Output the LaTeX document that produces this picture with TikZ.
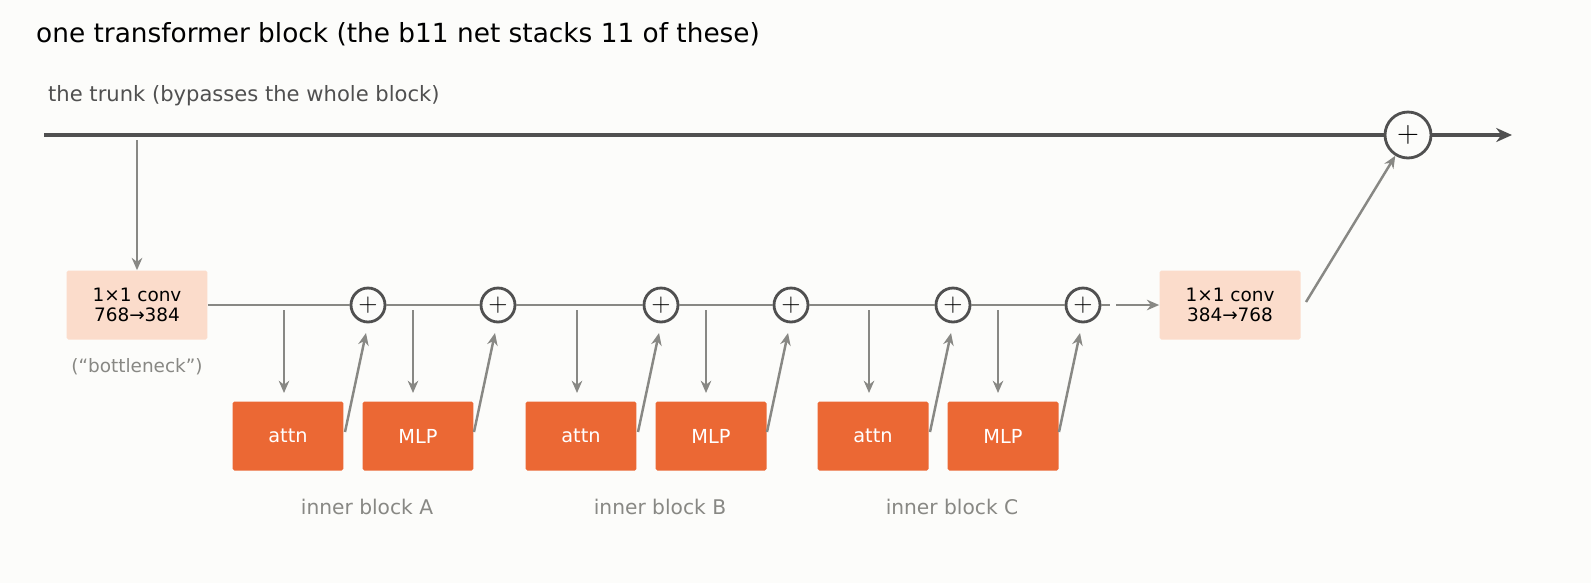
\documentclass[tikz,border=0pt]{standalone}
\usepackage{fontspec}
\setmainfont{DejaVu Sans}
\usetikzlibrary{calc,arrows.meta}
\definecolor{bgc}{HTML}{FCFCFA}
\definecolor{trunkc}{HTML}{505050}
\definecolor{linec}{HTML}{888884}
\definecolor{convc}{HTML}{FBDCCB}
\definecolor{blockc}{HTML}{EB6834}
\tikzset{
  convbox/.style={fill=convc,rounded corners=1pt,minimum width=2.82cm,minimum height=1.38cm,align=center,font=\fontsize{10.5}{11}\selectfont,inner sep=0pt},
  layerbox/.style={fill=blockc,rounded corners=1pt,minimum width=2.22cm,minimum height=1.38cm,text=white,font=\fontsize{11}{12}\selectfont},
  addc/.style={draw=trunkc,line width=1.6pt,circle,fill=bgc,minimum size=0.68cm,inner sep=0pt},
  feed/.style={draw=linec,line width=1.4pt,-{Stealth[length=7pt,width=6pt]}},
  graylbl/.style={text=linec,font=\fontsize{11.5}{12}\selectfont}
}
\begin{document}
\begin{tikzpicture}[x=0.02cm,y=-0.02cm]
				%background fixes the page size
				\fill[bgc] (0,0) rectangle (1591,583);
				\node[anchor=west,font=\fontsize{15}{16}\selectfont] (title) at (30,34) {one transformer block (the b11 net stacks 11 of these)};
				\node[anchor=west,text=trunkc,font=\fontsize{12}{13}\selectfont] (trunklbl) at (42,96) {the trunk (bypasses the whole block)};
				%% trunk with the outer add
				\coordinate (tin) at (44,135);
				\node[addc,minimum size=0.92cm] (tadd) at (1408,135) {\fontsize{17}{17}\selectfont$+$};
				\coordinate (tout) at (1512,135);
				\draw[trunkc,line width=2.2pt] (tin)--(tadd);
				\draw[trunkc,line width=2.2pt,-{Stealth[length=9pt,width=8pt]}] (tadd)--(tout);
				\node[convbox] (down) at (137,305) {1×1 conv\\768→384};
				\node[graylbl,font=\fontsize{10.5}{11}\selectfont] (bneck) at (137,367) {(“bottleneck”)};
				\node[convbox] (up) at (1230,305) {1×1 conv\\384→768};
				\coordinate (tap) at (137,140);
				\draw[feed] (tap)--(down.north);
				%% three inner blocks drawn with a loop
				\coordinate (prev) at (down.east);
				\foreach \b/\name in {0/A,293/B,585/C}{
					\node[layerbox] (attn\name) at (288+\b,436) {attn};
					\node[layerbox] (mlp\name) at (418+\b,436) {MLP};
					\node[addc] (a\name) at (368+\b,305) {\fontsize{15}{15}\selectfont$+$};
					\node[addc] (m\name) at (498+\b,305) {\fontsize{15}{15}\selectfont$+$};
					\node[graylbl] (lbl\name) at (367+\b,507) {inner block \name};
					\draw[feed] (284+\b,310)--(284+\b,393);
					\draw[feed] (345+\b,432)--(366+\b,333);
					\draw[feed] (413+\b,310)--(413+\b,393);
					\draw[feed] (474+\b,432)--(495+\b,333);
				}
				\draw[linec,line width=1.4pt] (down.east)--(aA)--(mA)--(aB)--(mB)--(aC)--(mC);
				\coordinate (dashend) at (1110,305);
				\draw[linec,line width=1.4pt] (mC)--(dashend);
				\draw[feed] (1116,305)--(up.west);
				\draw[feed] (1306,302)--(tadd);
\end{tikzpicture}
\end{document}
